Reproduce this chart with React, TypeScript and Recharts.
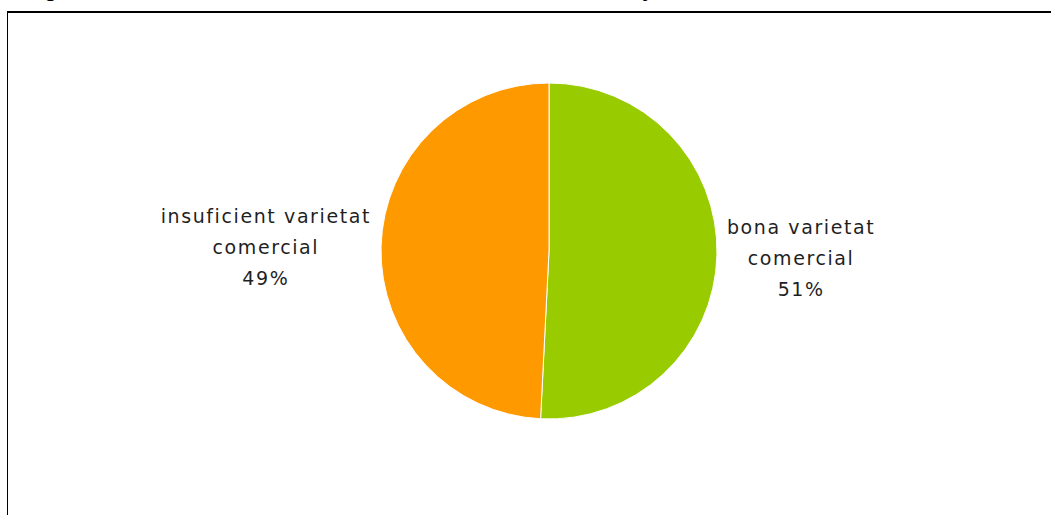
import React from 'react';
import { PieChart, Pie, Cell } from 'recharts';

const categories = ['bona varietat comercial', 'insuficient varietat comercial'];
const values = [50.8, 49.2];
const colors = ['#99CC00', '#FF9900'];
const labelLines: string[][] = [
  ['bona varietat', 'comercial'],
  ['insuficient varietat', 'comercial'],
];

const data = categories.map((name, i) => ({ name, value: values[i] }));
const total = values.reduce((a, b) => a + b, 0);

const FONT = '"DejaVu Sans", sans-serif';
const FONT_SIZE = 19;
const LETTER_SP = 1.6;
const LINE_H = 31;

let ctx: CanvasRenderingContext2D | null = null;
function measure(t: string): number {
  if (!ctx) {
    const c = document.createElement('canvas');
    ctx = c.getContext('2d');
  }
  if (!ctx) return t.length * 11;
  ctx.font = `${FONT_SIZE}px ${FONT}`;
  return ctx.measureText(t).width + LETTER_SP * t.length;
}

const renderLabel = (props: any) => {
  const { cx, cy, midAngle, outerRadius, index, value } = props;
  const RAD = Math.PI / 180;
  const lines = [...labelLines[index], `${Math.round((value / total) * 100)}%`];
  const w = Math.max(...lines.map(measure));
  const cos = Math.cos(-midAngle * RAD);
  const sin = Math.sin(-midAngle * RAD);
  const gap = 10;
  const ex = cx + (outerRadius + gap) * cos;
  const ey = cy + (outerRadius + gap) * sin;
  const x = cos >= 0 ? ex + w / 2 : ex - w / 2;
  const yShift = cos >= 0 ? 3 : 0;
  const top = ey + yShift - ((lines.length - 1) * LINE_H) / 2;
  return (
    <text
      x={x}
      y={top}
      textAnchor="middle"
      fill="#1f1f1f"
      fontFamily={FONT}
      fontSize={FONT_SIZE}
      letterSpacing={LETTER_SP}
    >
      {lines.map((l, i) => (
        <tspan key={i} x={x} y={top + i * LINE_H} dominantBaseline="central">
          {l}
        </tspan>
      ))}
    </text>
  );
};

export default function App() {
  return (
    <div style={{ position: 'absolute', left: 0, top: 0, width: 1051, height: 515, background: '#fff', overflow: 'hidden' }}>
      <svg width={1051} height={20} style={{ position: 'absolute', left: 0, top: 0 }}>
        <text x={44} y={-4} fontFamily="Arial, sans-serif" fontWeight="bold" fontSize={22} fill="#000">g</text>
        <text x={642} y={-4} fontFamily="Arial, sans-serif" fontWeight="bold" fontSize={22} fill="#000">y</text>
      </svg>
      <div
        style={{
          position: 'absolute',
          left: 7,
          top: 11,
          width: 1100,
          height: 600,
          borderTop: '2px solid #000',
          borderLeft: '1.5px solid #000',
          boxSizing: 'border-box',
        }}
      />
      <div style={{ position: 'absolute', left: 0, top: 0 }}>
        <PieChart width={1051} height={515} margin={{ top: 0, right: 0, bottom: 0, left: 0 }}>
          <Pie
            data={data}
            dataKey="value"
            nameKey="name"
            cx={549}
            cy={251}
            outerRadius={168}
            startAngle={90}
            endAngle={-270}
            stroke="#fff"
            strokeWidth={1}
            label={renderLabel}
            labelLine={false}
            isAnimationActive={false}
          >
            {data.map((d, i) => (
              <Cell key={d.name} fill={colors[i]} />
            ))}
          </Pie>
        </PieChart>
      </div>
    </div>
  );
}
